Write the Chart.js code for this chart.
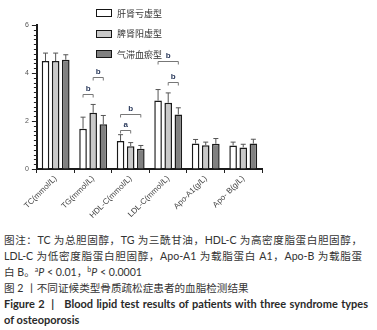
<!DOCTYPE html>
<html>
<head>
<meta charset="utf-8">
<script src="https://cdn.jsdelivr.net/npm/chart.js@4.4.0/dist/chart.umd.min.js"></script>
<style>
  html, body { margin: 0; padding: 0; background: #fff; }
  #wrap { position: relative; width: 377px; height: 330px; overflow: hidden; }
  #chartBox { position: absolute; left: 0; top: 0; width: 377px; height: 232px; }
  #legend { position: absolute; left: 96px; top: 3px; font-family: "Noto Sans CJK SC", sans-serif; font-size: 9px; color: #333; }
  #legend .item { height: 20.5px; display: flex; align-items: center; }
  #legend .box { width: 14px; height: 6px; border: 1.5px solid #151515; margin-right: 5px; }
  #caption { position: absolute; left: 4px; top: 232px; width: 373px; font-family: Lato, "Noto Sans CJK SC", sans-serif; font-size: 10.6px; line-height: 16px; color: #333; white-space: nowrap; }
  #caption .ln { height: 16px; }
  #caption .just { width: 358px; white-space: normal; text-align: justify; text-align-last: justify; }
  #caption .en { font-weight: bold; color: #2a2a2a; font-size: 11px; }
  #caption .en.just { width: 364px; }
  #caption sup { font-size: 7px; vertical-align: 4px; line-height: 0; }
</style>
</head>
<body>
<div id="wrap">
  <div id="chartBox"><canvas id="lipidChart" width="377" height="232"></canvas></div>
  <div id="legend"></div>
  <div id="caption">
    <div class="ln just">图注：TC 为总胆固醇，TG 为三酰甘油，HDL-C 为高密度脂蛋白胆固醇，</div>
    <div class="ln just">LDL-C 为低密度脂蛋白胆固醇，Apo-A1 为载脂蛋白 A1，Apo-B 为载脂蛋</div>
    <div class="ln">白 B。<sup>a</sup><i>P</i> &lt; 0.01，<sup>b</sup><i>P</i> &lt; 0.0001</div>
    <div class="ln">图 2 丨不同证候类型骨质疏松症患者的血脂检测结果</div>
    <div class="ln en just">Figure 2 &nbsp;| &nbsp; Blood lipid test results of patients with three syndrome types</div>
    <div class="ln en">of osteoporosis</div>
  </div>
</div>
<script>
// ---------- data ----------
const categories = ['TC(mmol/L)', 'TG(mmol/L)', 'HDL-C(mmol/L)', 'LDL-C(mmol/L)', 'Apo-A1(g/L)', 'Apo- B(g/L)'];
const seriesNames = ['肝肾亏虚型', '脾肾阳虚型', '气滞血瘀型'];
const seriesColors = ['#ffffff', '#c9c9c9', '#808080'];

const ganShenMean  = [4.50, 1.68, 1.17, 2.85, 1.06, 0.98];
const piShenMean   = [4.50, 2.34, 0.95, 2.76, 0.99, 0.90];
const qiZhiMean    = [4.55, 1.86, 0.84, 2.27, 1.05, 1.06];

const ganShenErr   = [0.33, 0.48, 0.26, 0.46, 0.17, 0.14];
const piShenErr    = [0.33, 0.35, 0.15, 0.41, 0.13, 0.13];
const qiZhiErr     = [0.21, 0.37, 0.14, 0.28, 0.22, 0.18];

const yMax = 6;
const yStep = 2;
const yMinorStep = 0.2;

// significance brackets: category index, from series, to series, height (value), mark
const brackets = [
  { cat: 1, from: 0, to: 1, y: 3.13, mark: 'b' },
  { cat: 1, from: 1, to: 2, y: 3.84, mark: 'b' },
  { cat: 2, from: 0, to: 1, y: 1.64, mark: 'a' },
  { cat: 2, from: 0, to: 2, y: 2.30, mark: 'b' },
  { cat: 3, from: 0, to: 2, y: 4.52, mark: 'b' },
  { cat: 3, from: 1, to: 2, y: 3.62, mark: 'b' }
];

const means = [ganShenMean, piShenMean, qiZhiMean];
const errs = [ganShenErr, piShenErr, qiZhiErr];

// ---------- legend (html) ----------
const legendEl = document.getElementById('legend');
seriesNames.forEach((name, i) => {
  const item = document.createElement('div');
  item.className = 'item';
  item.innerHTML = `<span class="box" style="background:${seriesColors[i]}"></span><span>${name}</span>`;
  legendEl.appendChild(item);
});

// ---------- plugins ----------
const errorBarPlugin = {
  id: 'errorBars',
  afterDatasetsDraw(chart) {
    const ctx = chart.ctx;
    const y = chart.scales.y;
    ctx.save();
    ctx.strokeStyle = '#555';
    ctx.lineWidth = 1;
    chart.data.datasets.forEach((ds, di) => {
      const meta = chart.getDatasetMeta(di);
      meta.data.forEach((bar, i) => {
        const top = y.getPixelForValue(ds.data[i] + errs[di][i]);
        const base = y.getPixelForValue(ds.data[i]);
        ctx.beginPath();
        ctx.moveTo(bar.x, base);
        ctx.lineTo(bar.x, top);
        ctx.moveTo(bar.x - 2.5, top);
        ctx.lineTo(bar.x + 2.5, top);
        ctx.stroke();
      });
    });
    ctx.restore();
  }
};

const bracketPlugin = {
  id: 'brackets',
  afterDatasetsDraw(chart) {
    const ctx = chart.ctx;
    const y = chart.scales.y;
    ctx.save();
    ctx.strokeStyle = '#777';
    ctx.lineWidth = 1;
    ctx.fillStyle = '#2b3a5c';
    ctx.font = 'bold 8px "Liberation Sans", Arial, sans-serif';
    ctx.textAlign = 'center';
    ctx.textBaseline = 'bottom';
    brackets.forEach(b => {
      const x1 = chart.getDatasetMeta(b.from).data[b.cat].x;
      const x2 = chart.getDatasetMeta(b.to).data[b.cat].x;
      const py = Math.round(y.getPixelForValue(b.y)) + 0.5;
      ctx.beginPath();
      ctx.moveTo(x1, py + 3);
      ctx.lineTo(x1, py);
      ctx.lineTo(x2, py);
      ctx.lineTo(x2, py + 3);
      ctx.stroke();
      ctx.fillText(b.mark, (x1 + x2) / 2, py - 2);
    });
    ctx.restore();
  }
};

// minor ticks on y axis + major tick labels
const yAxisPlugin = {
  id: 'yAxisMarks',
  afterDraw(chart) {
    const ctx = chart.ctx;
    const y = chart.scales.y;
    const x0 = chart.chartArea.left;
    ctx.save();
    ctx.strokeStyle = '#222';
    ctx.lineWidth = 1;
    for (let v = 0; v <= yMax + 0.001; v += yMinorStep) {
      const py = Math.round(y.getPixelForValue(v)) + 0.5;
      ctx.beginPath();
      ctx.moveTo(x0 - 3, py);
      ctx.lineTo(x0, py);
      ctx.stroke();
    }
    ctx.restore();
  }
};

// ---------- chart ----------
const ctx = document.getElementById('lipidChart').getContext('2d');
new Chart(ctx, {
  type: 'bar',
  data: {
    labels: categories,
    datasets: seriesNames.map((name, i) => ({
      label: name,
      data: means[i],
      backgroundColor: seriesColors[i],
      borderColor: '#1a1a1a',
      borderWidth: 1.5,
      categoryPercentage: 0.81,
      barPercentage: 0.75
    }))
  },
  options: {
    responsive: false,
    animation: false,
    layout: { padding: { top: 25, right: 115, left: 22, bottom: 0 } },
    plugins: { legend: { display: false }, tooltip: { enabled: false } },
    scales: {
      x: {
        afterFit(scale) { scale.height = 63; },
        grid: { drawOnChartArea: false, drawTicks: true, tickLength: 4, color: '#222' },
        border: { color: '#1a1a1a', width: 2 },
        ticks: {
          color: '#444',
          font: { size: 8, family: '"Liberation Sans", Arial, sans-serif' },
          maxRotation: 45, minRotation: 45, padding: 1, autoSkip: false
        }
      },
      y: {
        min: 0, max: yMax,
        grid: { drawOnChartArea: false, drawTicks: true, tickLength: 5, color: '#222' },
        border: { color: '#1a1a1a', width: 2 },
        ticks: {
          stepSize: yStep,
          color: '#555',
          font: { size: 7, family: '"Liberation Sans", Arial, sans-serif' },
          padding: 3
        }
      }
    }
  },
  plugins: [errorBarPlugin, bracketPlugin, yAxisPlugin]
});
</script>
</body>
</html>
